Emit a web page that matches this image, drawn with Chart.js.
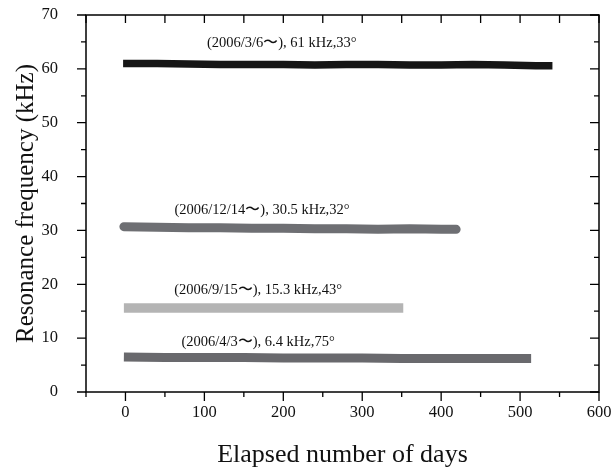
<!doctype html>
<html lang="en">
    <head>
        <meta charset="UTF-8" />
        <title>Resonance frequency</title>
        <style>
            html, body { margin: 0; padding: 0; background: #fff; }
            .chartBox { width: 613px; height: 468px; }
        </style>
    </head>
    <body>
        <div class="chartBox">
            <canvas id="myChart" width="613" height="468"></canvas>
        </div>

        <script src="https://cdn.jsdelivr.net/npm/chart.js"></script>
        <script>
            // data
            const days61 = [-3, 40, 80, 120, 160, 200, 240, 280, 320, 360, 400, 440, 480, 520, 541];
            const freq61 = [61.0, 61.0, 60.9, 60.8, 60.8, 60.8, 60.7, 60.8, 60.8, 60.7, 60.7, 60.8, 60.7, 60.6, 60.6];

            const days305 = [-2, 40, 80, 120, 160, 200, 240, 280, 320, 360, 400, 419];
            const freq305 = [30.7, 30.6, 30.5, 30.5, 30.4, 30.4, 30.3, 30.3, 30.2, 30.3, 30.2, 30.2];

            const days153 = [-2, 50, 100, 150, 200, 250, 300, 352];
            const freq153 = [15.6, 15.6, 15.6, 15.6, 15.6, 15.6, 15.6, 15.6];

            const days64 = [-2, 50, 100, 150, 200, 250, 300, 350, 400, 450, 514];
            const freq64 = [6.5, 6.4, 6.4, 6.4, 6.3, 6.3, 6.3, 6.2, 6.2, 6.2, 6.2];

            const labelTexts = [
                "(2006/3/6〜), 61 kHz,33°",
                "(2006/12/14〜), 30.5 kHz,32°",
                "(2006/9/15〜), 15.3 kHz,43°",
                "(2006/4/3〜), 6.4 kHz,75°",
            ];
            const labelDays = [198, 173, 168, 168];
            const labelFreqs = [64.8, 33.7, 18.9, 9.3];

            const toPoints = (xs, ys) => xs.map((x, i) => ({ x: x, y: ys[i] }));

            const data = {
                datasets: [
                    {
                        label: "61 kHz",
                        data: toPoints(days61, freq61),
                        borderColor: "#161616",
                        borderWidth: 7.5,
                        borderCapStyle: "butt",
                    },
                    {
                        label: "30.5 kHz",
                        data: toPoints(days305, freq305),
                        borderColor: "#6e6f73",
                        borderWidth: 9,
                        borderCapStyle: "round",
                    },
                    {
                        label: "15.3 kHz",
                        data: toPoints(days153, freq153),
                        borderColor: "#b4b4b4",
                        borderWidth: 9.5,
                        borderCapStyle: "butt",
                    },
                    {
                        label: "6.4 kHz",
                        data: toPoints(days64, freq64),
                        borderColor: "#69696d",
                        borderWidth: 9,
                        borderCapStyle: "butt",
                    },
                ],
            };

            // plugin: frame, tick marks and text labels
            const frameAndLabels = {
                id: "frameAndLabels",
                afterDatasetsDraw(chart) {
                    const {
                        ctx,
                        chartArea: { left, top, right, bottom },
                        scales: { x, y },
                    } = chart;
                    ctx.save();
                    ctx.strokeStyle = "#000";
                    ctx.lineWidth = 1.5;
                    ctx.strokeRect(left, top, right - left, bottom - top);

                    ctx.lineWidth = 1.3;
                    ctx.beginPath();
                    y.ticks.forEach((t) => {
                        const py = y.getPixelForValue(t.value);
                        const len = t.value % 10 === 0 ? 9 : 5;
                        ctx.moveTo(left - len, py);
                        ctx.lineTo(left, py);
                        ctx.moveTo(right, py);
                        ctx.lineTo(right - len, py);
                    });
                    x.ticks.forEach((t) => {
                        const px = x.getPixelForValue(t.value);
                        const len = t.value % 100 === 0 ? 9 : 5;
                        ctx.moveTo(px, bottom);
                        ctx.lineTo(px, bottom + len);
                        ctx.moveTo(px, top);
                        ctx.lineTo(px, top + 8);
                    });
                    ctx.stroke();

                    ctx.fillStyle = "#111";
                    ctx.font = "14.5px 'Liberation Serif'";
                    ctx.textAlign = "center";
                    ctx.textBaseline = "middle";
                    labelTexts.forEach((txt, i) => {
                        ctx.fillText(txt, x.getPixelForValue(labelDays[i]), y.getPixelForValue(labelFreqs[i]));
                    });
                    ctx.restore();
                },
            };

            const serif = "'Liberation Serif', 'Times New Roman', serif";
            const noScalePadding = (scale) => {
                scale.paddingTop = 0;
                scale.paddingBottom = 0;
                scale.paddingLeft = 0;
                scale.paddingRight = 0;
            };

            // config
            const config = {
                type: "line",
                data: data,
                options: {
                    responsive: false,
                    animation: false,
                    layout: { padding: { top: 15, right: 14, left: 0, bottom: 0 } },
                    elements: { point: { radius: 0 }, line: { tension: 0 } },
                    plugins: {
                        legend: { display: false },
                        tooltip: { enabled: false },
                    },
                    scales: {
                        x: {
                            type: "linear",
                            min: -50,
                            max: 600,
                            grid: { display: false, drawTicks: false },
                            border: { display: false },
                            ticks: {
                                stepSize: 50,
                                padding: 11,
                                color: "#111",
                                font: { family: serif, size: 16.5 },
                                maxRotation: 0,
                                autoSkip: false,
                                callback: (v) => (v % 100 === 0 ? v : ""),
                            },
                            title: {
                                display: true,
                                text: "Elapsed number of days",
                                color: "#111",
                                font: { family: serif, size: 26 },
                                padding: { top: 0, bottom: -3 },
                            },
                            afterFit(scale) {
                                scale.height = 76;
                                noScalePadding(scale);
                            },
                        },
                        y: {
                            min: 0,
                            max: 70,
                            grid: { display: false, drawTicks: false },
                            border: { display: false },
                            ticks: {
                                stepSize: 5,
                                padding: 28,
                                color: "#111",
                                font: { family: serif, size: 16.5 },
                                autoSkip: false,
                                callback: (v) => (v % 10 === 0 ? v : ""),
                            },
                            title: {
                                display: true,
                                text: "Resonance frequency (kHz)",
                                color: "#111",
                                font: { family: serif, size: 25 },
                                padding: { top: 11, bottom: 0 },
                            },
                            afterFit(scale) {
                                scale.width = 86;
                                noScalePadding(scale);
                            },
                        },
                    },
                },
                plugins: [frameAndLabels],
            };

            // init
            var ctx = document.getElementById("myChart").getContext("2d");
            new Chart(ctx, config);
        </script>
    </body>
</html>
